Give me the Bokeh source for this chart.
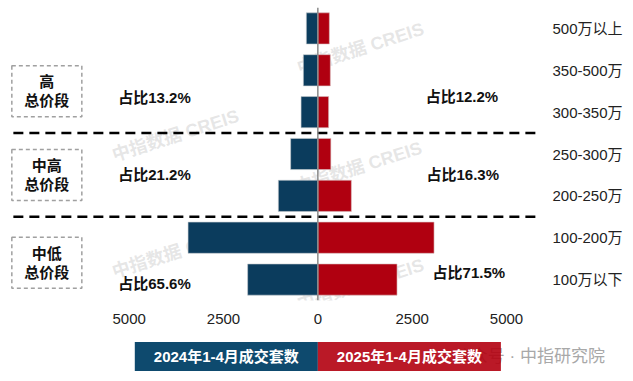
from bokeh.plotting import figure
from bokeh.layouts import column
from bokeh.models import Range1d, FactorRange, Span, Label, ColumnDataSource, FixedTicker, CustomJSTickFormatter
from bokeh.core.properties import value
from bokeh.embed import file_html
from bokeh.resources import INLINE

FONT = "Liberation Sans, Arial, Noto Sans CJK SC"

# ---- data (top -> bottom) ----
categories = ["500万以上", "350-500万", "300-350万", "250-300万", "200-250万", "100-200万", "100万以下"]
sales_2024 = [305, 384, 445, 721, 1047, 3440, 1861]
sales_2025 = [305, 331, 286, 345, 888, 3080, 2099]
series_names = ["2024年1-4月成交套数", "2025年1-4月成交套数"]
x_ticks = [-5000, -2500, 0, 2500, 5000]

segment_names = ["高\n总价段", "中高\n总价段", "中低\n总价段"]
share_2024 = ["占比13.2%", "占比21.2%", "占比65.6%"]
share_2025 = ["占比12.2%", "占比16.3%", "占比71.5%"]
watermark_text = "中指数据 CREIS"
source_text = "公众号 · 中指研究院"

# ---- layout / style (positions separate from data) ----
BLUE = "#0B3C5D"
RED = "#B00010"
factors = list(reversed(categories))  # bottom -> top for bokeh

X0, X1 = -8199, 6034
p = figure(width=633, height=333, output_backend="svg", toolbar_location=None,
           x_range=Range1d(X0, X1), y_range=FactorRange(factors=factors),
           y_axis_location="right", min_border_left=8, min_border_top=7,
           min_border_right=88, min_border_bottom=33)
p.frame_align = False
p.outline_line_color = None
p.grid.grid_line_color = None
p.background_fill_color = "white"

# faint watermarks (drawn first, underneath)
wm_x = [-3773, -3773, 1130, 1077, 1130]
wm_y = [3.94, 1.15, 6.02, 3.18, 0.38]
p.text(x=wm_x, y=wm_y, text=[watermark_text] * len(wm_x), angle=0.31,
       text_align="center", text_baseline="middle", text_font=value(FONT),
       text_font_style="bold", text_font_size="18px", text_color="#c8c8c8", text_alpha=0.45)

src = ColumnDataSource(dict(cat=categories,
                            left24=[-v for v in sales_2024], zero=[0] * len(categories),
                            right25=sales_2025))
p.hbar(y="cat", left="left24", right="zero", height=0.745, source=src,
       fill_color=BLUE, line_color="#c8ccd0", line_width=0.6)
p.hbar(y="cat", left="zero", right="right25", height=0.745, source=src,
       fill_color=RED, line_color="#d8c0c0", line_width=0.6)

# zero line
p.add_layout(Span(location=0, dimension="height", line_color="#8a8a8a", line_width=1.5))

# dashed separators (synthetic categorical coords: boundaries between groups)
sep_y = [4, 2]
p.segment(x0=[-8070] * 2, x1=[5900] * 2, y0=sep_y, y1=sep_y,
          line_color="black", line_width=2.5, line_dash="10 6")

# segment boxes on the left
box_y = [5.0, 3.0, 0.9]
p.rect(x=[-7183] * 3, y=box_y, width=70, height=51, width_units="screen", height_units="screen",
       fill_color=None, line_color="#a0a0a0", line_width=1.5, line_dash="4 3")
p.text(x=[-7183] * 3, y=box_y, text=segment_names, text_align="center", text_baseline="middle",
       text_font=value(FONT), text_font_style="bold", text_font_size="15px",
       text_color="#111111", text_line_height=1.15)

# share annotations
p.text(x=[-5291] * 3, y=[4.84, 3.02, 0.41], text=share_2024, text_align="left",
       text_baseline="middle", text_font=value(FONT), text_font_style="bold",
       text_font_size="15px", text_color="#111111")
p.text(x=[2857, 2880, 3042], y=[4.87, 3.02, 0.67], text=share_2025, text_align="left",
       text_baseline="middle", text_font=value(FONT), text_font_style="bold",
       text_font_size="15px", text_color="#111111")

# axes
p.xaxis.ticker = FixedTicker(ticks=x_ticks)
p.xaxis.formatter = CustomJSTickFormatter(code="return Math.abs(tick).toString();")
for ax in (p.xaxis, p.yaxis):
    ax.axis_line_color = None
    ax.major_tick_line_color = None
    ax.minor_tick_line_color = None
    ax.major_tick_out = 0
    ax.major_tick_in = 0
    ax.minor_tick_out = 0
    ax.minor_tick_in = 0
    ax.major_label_text_font = FONT
    ax.major_label_text_font_size = "15px"
    ax.major_label_text_color = "#222222"
p.xaxis.major_label_standoff = 13
p.yaxis.major_label_standoff = 7

# legend strip below the chart: full-width frame, zero at the same pixel column
leg = figure(width=633, height=48, output_backend="svg", toolbar_location=None,
             x_range=Range1d(-8411, 8366), y_range=Range1d(0, 1),
             x_axis_location=None, y_axis_location=None,
             min_border_left=0, min_border_right=0, min_border_top=0, min_border_bottom=0)
leg.frame_align = False
leg.grid.grid_line_color = None
leg.outline_line_color = None

lab_kw = dict(x=0, y=0.52, text_baseline="middle",
              text_font=FONT, text_font_style="bold", text_font_size="15px", text_color="white",
              padding=dict(left=19, right=19, top=6, bottom=6))
leg.add_layout(Label(text=source_text, x=3605, y=0.52, text_baseline="middle",
                     text_font=FONT, text_font_size="17px", text_color="#a8a8a8"))
leg.add_layout(Label(text=series_names[0], text_align="right", background_fill_color="#0E4A6E", **lab_kw))
leg.add_layout(Label(text=series_names[1], text_align="left", background_fill_color="#B20010",
                     background_fill_alpha=0.9, **lab_kw))

open("out.html", "w").write(file_html(column(p, leg, spacing=0), INLINE))
